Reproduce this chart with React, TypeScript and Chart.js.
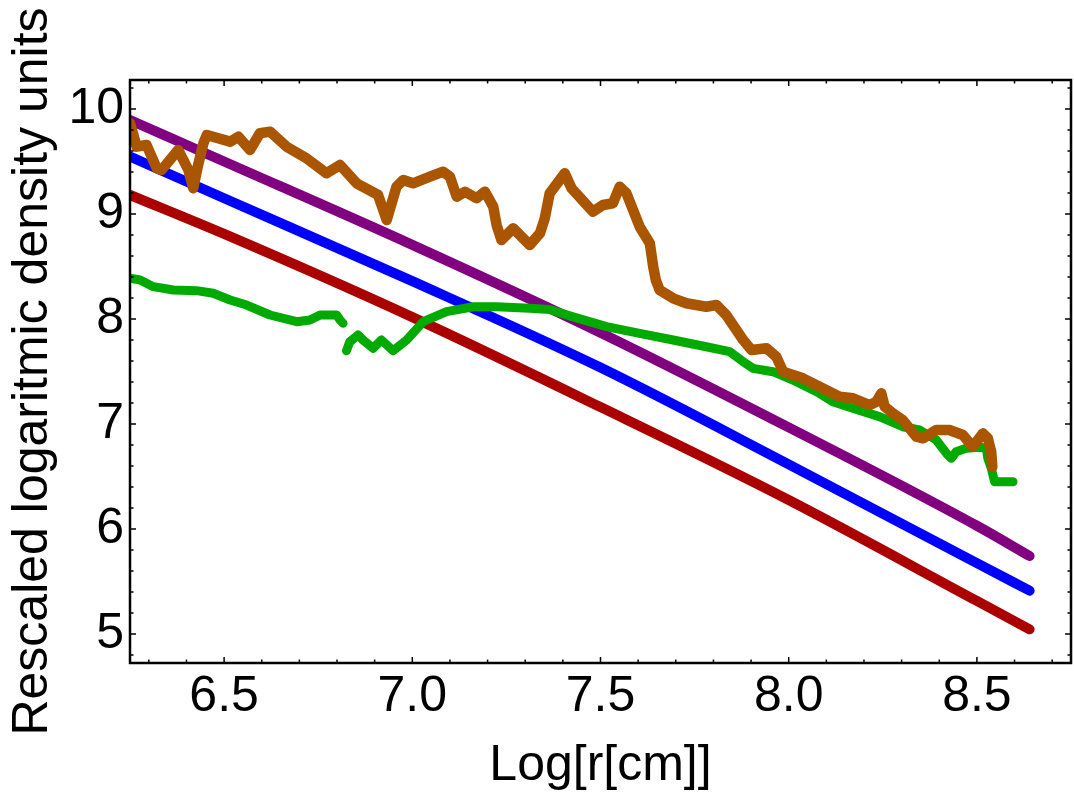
import { useEffect, useRef } from "react";
import { Chart, registerables } from "chart.js";
import type { Plugin } from "chart.js";

Chart.register(...registerables);

const FONT = '"Liberation Sans", Arial, Helvetica, sans-serif';

// axis ticks
const xMajorTicks = [6.5, 7.0, 7.5, 8.0, 8.5];
const xMinorTicks = [6.3, 6.4, 6.6, 6.7, 6.8, 6.9, 7.1, 7.2, 7.3, 7.4, 7.6, 7.7, 7.8, 7.9, 8.1, 8.2, 8.3, 8.4, 8.6, 8.7];
const yMajorTicks = [5, 6, 7, 8, 9, 10];
const yMinorTicks = [4.8, 5.2, 5.4, 5.6, 5.8, 6.2, 6.4, 6.6, 6.8, 7.2, 7.4, 7.6, 7.8, 8.2, 8.4, 8.6, 8.8, 9.2, 9.4, 9.6, 9.8, 10.2];

// model profiles (nearly straight)
const modelX = [6.25, 6.5, 7.0, 7.5, 8.0, 8.5, 8.64];
const purpleY = [9.895, 9.5, 8.706, 7.87, 6.968, 6.031, 5.743];
const blueY = [9.546, 9.15, 8.36, 7.537, 6.615, 5.675, 5.413];
const redY = [9.181, 8.81, 8.018, 7.161, 6.276, 5.315, 5.045];

// orange profile
const orangeX = [
  6.25, 6.268, 6.294, 6.321, 6.334, 6.378, 6.405, 6.418, 6.431, 6.445, 6.454, 6.516, 6.538, 6.569, 6.595, 6.622,
  6.666, 6.719, 6.772, 6.808, 6.852, 6.909, 6.932, 6.958, 6.976, 7.002, 7.047, 7.082, 7.1, 7.118, 7.14, 7.171,
  7.193, 7.215, 7.224, 7.237, 7.268, 7.312, 7.339, 7.352, 7.365, 7.405, 7.423, 7.48, 7.507, 7.533, 7.551, 7.569,
  7.604, 7.631, 7.64, 7.647, 7.657, 7.693, 7.728, 7.781, 7.808, 7.834, 7.879, 7.901, 7.941, 7.967, 7.985, 8.038,
  8.082, 8.135, 8.171, 8.215, 8.233, 8.246, 8.255, 8.277, 8.303, 8.339, 8.357, 8.392, 8.427, 8.463, 8.489, 8.516,
  8.529, 8.538, 8.541,
];
const orangeY = [
  9.864, 9.641, 9.657, 9.435, 9.419, 9.61, 9.419, 9.245, 9.467, 9.673, 9.752, 9.689, 9.736, 9.61, 9.769, 9.784,
  9.641, 9.53, 9.388, 9.467, 9.292, 9.181, 8.943, 9.26, 9.324, 9.292, 9.355, 9.403, 9.355, 9.165, 9.212, 9.15,
  9.212, 9.07, 8.895, 8.752, 8.864, 8.705, 8.816, 8.959, 9.197, 9.388, 9.245, 9.022, 9.086, 9.102, 9.26, 9.197,
  8.879, 8.721, 8.498, 8.371, 8.276, 8.197, 8.15, 8.117, 8.133, 8.038, 7.8, 7.705, 7.721, 7.641, 7.498, 7.435,
  7.355, 7.26, 7.245, 7.181, 7.212, 7.292, 7.165, 7.102, 7.038, 6.879, 6.864, 6.943, 6.943, 6.895, 6.784, 6.911,
  6.864, 6.736, 6.59,
];

// green profile (null = gap)
const greenX = [
  6.25, 6.277, 6.312, 6.365, 6.427, 6.471, 6.516, 6.56, 6.622, 6.693, 6.728, 6.755, 6.799, 6.808, 6.816, 6.82,
  6.825, 6.834, 6.856, 6.869, 6.896, 6.918, 6.949, 6.985, 7.029, 7.091, 7.162, 7.224, 7.312, 7.365, 7.427, 7.516,
  7.604, 7.693, 7.781, 7.843, 7.879, 7.905, 7.958, 8.011, 8.082, 8.117, 8.17, 8.241, 8.303, 8.348, 8.392, 8.419,
  8.432, 8.445, 8.471, 8.507, 8.525, 8.529, 8.538, 8.547, 8.596,
];
const greenY = [
  8.388, 8.371, 8.308, 8.276, 8.27, 8.245, 8.181, 8.133, 8.038, 7.974, 7.99, 8.038, 8.038, 7.99, 7.959, null,
  7.698, 7.784, 7.848, 7.8, 7.721, 7.8, 7.698, 7.8, 7.974, 8.07, 8.117, 8.117, 8.102, 8.09, 8.02, 7.927,
  7.863, 7.8, 7.736, 7.689, 7.593, 7.53, 7.498, 7.419, 7.292, 7.212, 7.15, 7.07, 6.974, 6.943, 6.848, 6.721,
  6.673, 6.736, 6.769, 6.778, 6.769, 6.673, 6.581, 6.45, 6.45,
];

const toPoints = (xs: number[], ys: (number | null)[]) => xs.map((x, i) => ({ x, y: ys[i] }));

const framePlugin: Plugin = {
  id: "mma-frame",
  afterDraw(chart) {
    const { ctx, chartArea: a } = chart;
    const xs = chart.scales.x;
    const ys = chart.scales.y;
    ctx.save();
    ctx.strokeStyle = "#000";
    ctx.lineWidth = 1.5;
    const xTick = (v: number, len: number) => {
      const px = xs.getPixelForValue(v);
      ctx.beginPath();
      ctx.moveTo(px, a.bottom);
      ctx.lineTo(px, a.bottom - len);
      ctx.moveTo(px, a.top);
      ctx.lineTo(px, a.top + len);
      ctx.stroke();
    };
    const yTick = (v: number, len: number) => {
      const py = ys.getPixelForValue(v);
      ctx.beginPath();
      ctx.moveTo(a.left, py);
      ctx.lineTo(a.left + len, py);
      ctx.moveTo(a.right, py);
      ctx.lineTo(a.right - len, py);
      ctx.stroke();
    };
    xMajorTicks.forEach((v) => xTick(v, 6));
    xMinorTicks.forEach((v) => xTick(v, 3.5));
    yMajorTicks.forEach((v) => yTick(v, 6));
    yMinorTicks.forEach((v) => yTick(v, 3.5));
    ctx.lineWidth = 2.5;
    ctx.strokeRect(a.left, a.top, a.right - a.left, a.bottom - a.top);
    ctx.restore();
  },
};

export default function App() {
  const ref = useRef<HTMLCanvasElement>(null);

  useEffect(() => {
    document.body.style.margin = "0";
    if (!ref.current) return;
    const line = (label: string, data: any[], color: string, width: number, smooth = false) => ({
      label,
      data,
      borderColor: color,
      backgroundColor: color,
      borderWidth: width,
      borderCapStyle: "round" as const,
      borderJoinStyle: "round" as const,
      pointRadius: 0,
      tension: smooth ? 0.4 : 0,
      cubicInterpolationMode: smooth ? ("monotone" as const) : ("default" as const),
      spanGaps: false,
      clip: 0,
    });
    const chart = new Chart(ref.current, {
      type: "line",
      plugins: [framePlugin],
      data: {
        datasets: [
          line("orange", toPoints(orangeX, orangeY), "#aa5500", 10.5),
          line("green", toPoints(greenX, greenY), "#00aa00", 9),
          line("purple", toPoints(modelX, purpleY), "#800080", 10, true),
          line("blue", toPoints(modelX, blueY), "#0000ff", 10, true),
          line("red", toPoints(modelX, redY), "#aa0000", 10, true),
        ],
      },
      options: {
        animation: false,
        responsive: false,
        layout: { padding: { top: 80, right: 3, left: 0, bottom: 0 } },
        plugins: { legend: { display: false }, tooltip: { enabled: false } },
        scales: {
          x: {
            type: "linear",
            min: 6.25,
            max: 8.75,
            afterFit: (s: any) => {
              s.height = 138;
            },
            afterBuildTicks: (s: any) => {
              s.ticks = xMajorTicks.map((value) => ({ value }));
            },
            grid: { display: false, drawTicks: false, tickLength: 0 },
            border: { display: false },
            ticks: {
              autoSkip: false,
              maxRotation: 0,
              minRotation: 0,
              padding: 4,
              color: "#000",
              font: { family: FONT, size: 50 },
              callback: (v: any) => Number(v).toFixed(1),
            },
            title: {
              display: true,
              text: "Log[r[cm]]",
              color: "#000",
              font: { family: FONT, size: 50 },
              padding: { top: 0, bottom: 5 },
            },
          },
          y: {
            min: 4.724,
            max: 10.276,
            afterFit: (s: any) => {
              s.width = 130;
            },
            afterBuildTicks: (s: any) => {
              s.ticks = yMajorTicks.map((value) => ({ value }));
            },
            grid: { display: false, drawTicks: false, tickLength: 0 },
            border: { display: false },
            ticks: {
              autoSkip: false,
              padding: 6,
              color: "#000",
              font: { family: FONT, size: 50 },
              callback: (v: any) => String(v),
            },
            title: {
              display: true,
              text: "Rescaled logaritmic density units",
              color: "#000",
              font: { family: FONT, size: 50 },
              padding: { top: 3, bottom: 0 },
            },
          },
        },
      },
    });
    return () => chart.destroy();
  }, []);

  return (
    <div style={{ width: 1074, height: 801 }}>
      <canvas ref={ref} width={1074} height={801} style={{ display: "block" }} />
    </div>
  );
}
